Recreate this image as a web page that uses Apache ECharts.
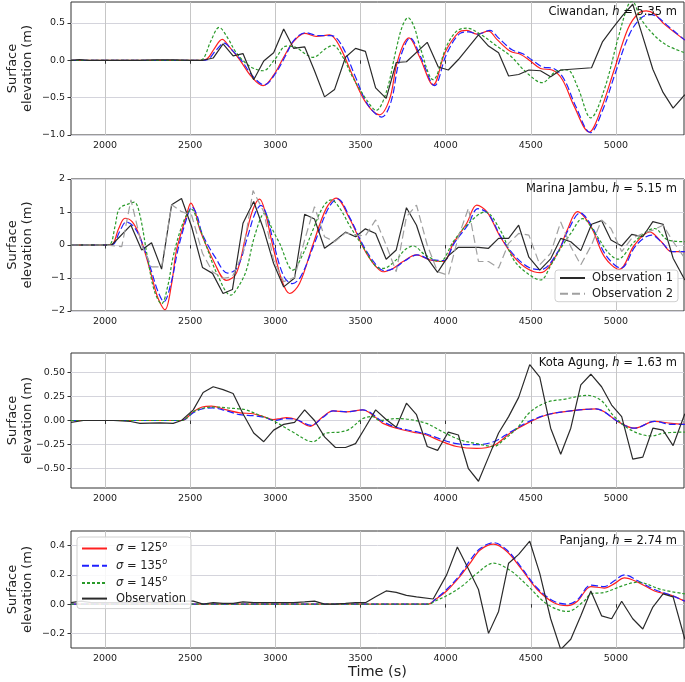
<!DOCTYPE html>
<html>
<head>
<meta charset="utf-8">
<script src="https://cdn.jsdelivr.net/npm/echarts@6/dist/echarts.min.js"></script>
<style>html,body{margin:0;padding:0;background:#fff}#c{width:685px;height:682px}</style>
</head>
<body>
<div id="c"></div>
<script>
// ---------- DATA ----------
const xTicks = [2000, 2500, 3000, 3500, 4000, 4500, 5000];
const yTicks1 = [-1.0, -0.5, 0.0, 0.5];
const yTicks2 = [-2, -1, 0, 1, 2];
const yTicks3 = [-0.5, -0.25, 0, 0.25, 0.5];
const yTicks4 = [-0.2, 0.0, 0.2, 0.4];
const stationLabels = ['Ciwandan', 'Marina Jambu', 'Kota Agung', 'Panjang'];
const stationDepths = ['5.35', '5.15', '1.63', '2.74'];
const modelNames = ['125', '135', '145'];

// Panel 1: Ciwandan
const p1Red = [[1800,0],[2000,0],[2300,0],[2560,0],[2600,0.02],[2640,0.15],[2688,0.28],[2730,0.18],[2790,0.01],[2860,-0.22],[2928,-0.34],[2990,-0.2],[3049,0.04],[3103,0.24],[3172,0.36],[3240,0.32],[3318,0.34],[3377,0.19],[3455,-0.21],[3533,-0.57],[3612,-0.73],[3671,-0.52],[3710,-0.08],[3750,0.2],[3785,0.30],[3848,0.04],[3927,-0.33],[3996,0.1],[4075,0.37],[4124,0.40],[4183,0.35],[4252,0.39],[4301,0.28],[4380,0.12],[4439,0.08],[4498,-0.01],[4557,-0.11],[4626,-0.13],[4686,-0.26],[4754,-0.61],[4843,-0.96],[4912,-0.66],[4991,-0.12],[5070,0.42],[5129,0.62],[5178,0.66],[5227,0.62],[5286,0.48],[5405,0.27]];
const p1Blue = [[1800,0],[2300,0],[2570,0],[2610,0.02],[2650,0.13],[2700,0.23],[2740,0.15],[2800,0.0],[2870,-0.22],[2935,-0.33],[3000,-0.18],[3060,0.06],[3110,0.27],[3180,0.37],[3250,0.33],[3330,0.33],[3390,0.2],[3470,-0.22],[3545,-0.6],[3625,-0.76],[3680,-0.55],[3720,-0.08],[3760,0.2],[3790,0.30],[3855,0.04],[3935,-0.34],[4005,0.08],[4085,0.36],[4135,0.38],[4190,0.35],[4260,0.4],[4310,0.3],[4390,0.14],[4450,0.09],[4510,0.0],[4570,-0.09],[4635,-0.11],[4695,-0.25],[4765,-0.62],[4850,-0.97],[4920,-0.68],[5000,-0.15],[5080,0.35],[5150,0.57],[5207,0.61],[5250,0.57],[5300,0.47],[5405,0.27]];
const p1Green = [[1800,0],[2300,0],[2540,0],[2576,0.02],[2620,0.25],[2670,0.44],[2720,0.3],[2771,0.10],[2850,-0.08],[2928,-0.14],[3000,0.02],[3064,0.19],[3122,0.17],[3180,0.08],[3220,0.04],[3299,0.16],[3338,0.20],[3397,0.04],[3455,-0.23],[3533,-0.52],[3592,-0.67],[3651,-0.43],[3710,0.15],[3745,0.45],[3779,0.57],[3815,0.45],[3848,0.19],[3927,-0.26],[4006,0.19],[4065,0.39],[4124,0.43],[4203,0.35],[4301,0.19],[4380,0.06],[4478,-0.17],[4567,-0.3],[4656,-0.14],[4715,-0.13],[4774,-0.35],[4853,-0.77],[4932,-0.39],[5011,0.28],[5070,0.73],[5095,0.79],[5148,0.55],[5227,0.33],[5300,0.2],[5405,0.1]];
const p1Obs = [[1800,0],[1850,0.01],[1900,0],[2000,0],[2100,0],[2200,0],[2300,0.005],[2400,0.005],[2500,0],[2576,0],[2635,0.03],[2693,0.22],[2752,0.06],[2810,0.09],[2873,-0.26],[2932,-0.01],[2990,0.1],[3049,0.42],[3107,0.16],[3172,0.18],[3230,-0.14],[3289,-0.49],[3348,-0.39],[3412,0.04],[3471,0.16],[3529,0.12],[3589,-0.37],[3651,-0.51],[3710,-0.03],[3770,-0.02],[3892,0.24],[3957,-0.09],[4016,-0.13],[4075,0.01],[4193,0.34],[4252,0.19],[4311,0.10],[4370,-0.21],[4429,-0.19],[4489,-0.13],[4557,-0.14],[4617,-0.22],[4676,-0.13],[4857,-0.10],[4922,0.25],[4981,0.43],[5040,0.6],[5099,0.75],[5148,0.39],[5217,-0.12],[5277,-0.43],[5336,-0.64],[5405,-0.46]];

// Panel 2: Marina Jambu
const p2Red = [[1800,0],[2000,0],[2040,0.01],[2080,0.5],[2117,0.81],[2160,0.7],[2205,0.25],[2264,-0.76],[2310,-1.6],[2352,-1.96],[2390,-1.2],[2420,-0.15],[2479,0.91],[2504,1.27],[2530,1.0],[2557,0.46],[2635,-0.46],[2713,-1.07],[2771,-0.86],[2830,0.36],[2870,1.1],[2908,1.39],[2940,1.0],[2986,-0.05],[3040,-1.1],[3084,-1.47],[3142,-1.17],[3220,0.0],[3299,1.11],[3357,1.42],[3435,0.81],[3514,-0.05],[3553,-0.4],[3592,-0.66],[3632,-0.81],[3691,-0.71],[3750,-0.5],[3829,-0.3],[3907,-0.45],[3986,-0.5],[4045,0.05],[4124,0.66],[4183,1.21],[4242,1.01],[4321,0.25],[4400,-0.35],[4478,-0.71],[4557,-0.84],[4656,-0.25],[4715,0.46],[4774,1.01],[4853,0.56],[4932,-0.35],[5020,-0.74],[5109,0.0],[5198,0.4],[5267,0.1],[5326,-0.2],[5405,-0.2]];
const p2Blue = [[1800,0],[2000,0],[2045,0.01],[2085,0.4],[2125,0.7],[2170,0.55],[2215,0.1],[2270,-0.75],[2310,-1.4],[2345,-1.72],[2390,-1.1],[2430,-0.1],[2485,0.9],[2510,1.15],[2540,0.9],[2570,0.35],[2650,-0.4],[2720,-0.85],[2775,-0.7],[2840,0.3],[2880,0.95],[2915,1.2],[2950,0.9],[2995,-0.05],[3050,-0.95],[3100,-1.17],[3150,-0.95],[3230,0.05],[3310,1.1],[3365,1.4],[3440,0.8],[3520,-0.05],[3600,-0.65],[3640,-0.78],[3700,-0.7],[3760,-0.48],[3835,-0.3],[3915,-0.45],[3990,-0.47],[4050,0.05],[4130,0.6],[4190,1.1],[4250,0.95],[4330,0.2],[4410,-0.35],[4490,-0.68],[4560,-0.75],[4660,-0.2],[4720,0.45],[4790,0.97],[4860,0.55],[4940,-0.3],[5030,-0.7],[5120,0.0],[5210,0.3],[5275,0.05],[5330,-0.2],[5405,-0.2]];
const p2Green = [[1800,0],[2000,0],[2030,0.02],[2060,0.6],[2084,1.1],[2140,1.25],[2172,1.3],[2205,0.9],[2250,-0.4],[2290,-1.4],[2332,-1.78],[2370,-1.2],[2400,-0.35],[2460,0.7],[2508,1.08],[2550,0.6],[2596,-0.05],[2660,-0.9],[2738,-1.52],[2790,-1.2],[2830,-0.76],[2880,0.3],[2937,0.96],[2980,0.5],[3025,0.05],[3103,-0.76],[3160,-0.3],[3220,0.45],[3280,1.15],[3328,1.37],[3380,1.1],[3435,0.6],[3520,-0.1],[3592,-0.66],[3632,-0.71],[3710,-0.45],[3760,-0.15],[3809,-0.03],[3880,-0.3],[3966,-0.5],[4045,0.1],[4124,0.6],[4232,1.0],[4321,0.45],[4400,-0.45],[4478,-0.85],[4557,-1.06],[4620,-0.6],[4676,-0.1],[4735,0.35],[4804,0.8],[4892,0.25],[4950,-0.2],[5011,-0.43],[5109,0.1],[5227,0.5],[5306,0.15],[5405,0.1]];
const p2Obs1 = [[1800,0],[1900,0],[2000,0],[2039,0],[2152,0.6],[2215,-0.15],[2273,0.07],[2332,-0.73],[2391,1.22],[2449,1.41],[2508,0.56],[2572,-0.68],[2631,-0.86],[2693,-1.47],[2748,-1.35],[2810,0.66],[2873,1.32],[2932,0.46],[2990,-0.56],[3049,-1.27],[3113,-1.0],[3172,0.93],[3230,0.79],[3289,-0.1],[3348,0.12],[3412,0.39],[3471,0.25],[3529,0.49],[3589,0.35],[3651,-0.43],[3710,-0.15],[3770,1.13],[3829,0.6],[3892,-0.4],[3953,-0.83],[4016,-0.33],[4075,-0.07],[4193,-0.07],[4252,-0.1],[4311,0.2],[4370,0.2],[4429,0.6],[4489,-0.37],[4553,-0.76],[4617,-0.42],[4676,0.2],[4735,0.1],[4794,-0.17],[4857,0.63],[4916,0.74],[4971,0.15],[5034,-0.03],[5093,0.32],[5158,0.25],[5217,0.71],[5277,0.63],[5336,-0.4],[5405,-1.06]];
const p2Obs2 = [[1800,0],[1900,0],[2000,0],[2098,-0.05],[2152,1.37],[2215,0],[2273,-0.66],[2332,-0.66],[2391,1.22],[2449,1.01],[2508,0.91],[2572,-0.25],[2631,-0.81],[2693,-1.01],[2748,-0.96],[2810,-0.25],[2869,1.65],[2932,1.01],[2990,-0.46],[3049,-1.11],[3113,-0.98],[3172,0.15],[3230,1.16],[3289,0.25],[3348,0.1],[3412,0.37],[3471,0.3],[3529,0.28],[3589,0.76],[3651,0],[3710,-0.81],[3770,0.86],[3829,1.21],[3892,0],[3953,-0.81],[4016,-0.92],[4075,0.25],[4134,1.11],[4193,-0.5],[4252,-0.5],[4311,-0.7],[4370,0.05],[4429,0.35],[4489,0.3],[4553,-0.6],[4617,-0.25],[4676,0.7],[4735,-0.05],[4794,-0.6],[4857,0],[4916,0.76],[4971,0.5],[5034,-0.2],[5093,0.2],[5158,0.35],[5217,0.45],[5277,0.6],[5336,0.1],[5405,-0.4]];

// Panel 3: Kota Agung
const p3Red = [[1800,0],[2300,0],[2450,0],[2518,0.09],[2570,0.14],[2625,0.15],[2713,0.11],[2791,0.08],[2869,0.07],[2930,0.04],[2986,0.01],[3030,0.02],[3064,0.03],[3123,0.01],[3205,-0.06],[3279,0.04],[3338,0.1],[3416,0.09],[3514,0.11],[3553,0.08],[3611,0.0],[3632,-0.03],[3710,-0.08],[3809,-0.12],[3888,-0.15],[3966,-0.21],[4065,-0.27],[4183,-0.29],[4282,-0.26],[4380,-0.13],[4478,-0.03],[4596,0.06],[4735,0.1],[4883,0.12],[4932,0.09],[5011,-0.01],[5109,-0.08],[5227,-0.01],[5326,-0.03],[5405,-0.04]];
const p3Blue = [[1800,0],[2300,0],[2450,0],[2518,0.08],[2570,0.12],[2630,0.13],[2713,0.1],[2791,0.06],[2869,0.05],[2940,0.03],[2990,0.0],[3064,0.02],[3123,0.01],[3210,-0.05],[3285,0.04],[3340,0.1],[3420,0.09],[3514,0.11],[3560,0.08],[3620,0.0],[3710,-0.07],[3809,-0.11],[3888,-0.14],[3966,-0.19],[4065,-0.24],[4183,-0.25],[4282,-0.22],[4380,-0.12],[4478,-0.02],[4596,0.06],[4735,0.1],[4883,0.12],[4932,0.09],[5011,-0.01],[5109,-0.08],[5227,-0.01],[5326,-0.04],[5405,-0.04]];
const p3Green = [[1800,0],[2300,0],[2450,0],[2518,0.09],[2580,0.13],[2654,0.14],[2720,0.13],[2791,0.12],[2830,0.11],[2900,0.06],[2986,0.0],[3103,-0.12],[3220,-0.22],[3299,-0.13],[3377,-0.12],[3435,-0.09],[3514,0.02],[3572,0.04],[3611,0.0],[3710,0.02],[3789,0.01],[3888,-0.03],[3986,-0.12],[4085,-0.2],[4183,-0.24],[4282,-0.27],[4341,-0.2],[4419,-0.08],[4498,0.09],[4596,0.19],[4695,0.22],[4833,0.26],[4912,0.21],[4991,0.04],[5089,-0.1],[5207,-0.16],[5286,-0.13],[5405,-0.12]];
const p3Obs = [[1800,-0.02],[1873,0],[1950,0],[2050,0],[2150,-0.01],[2205,-0.03],[2322,-0.025],[2400,-0.03],[2449,0],[2518,0.11],[2576,0.29],[2635,0.35],[2693,0.32],[2752,0.28],[2810,0.07],[2873,-0.13],[2932,-0.22],[2990,-0.1],[3049,-0.04],[3113,-0.02],[3172,0.11],[3230,0],[3289,-0.17],[3353,-0.28],[3412,-0.28],[3471,-0.24],[3529,-0.07],[3589,0.11],[3651,0.01],[3710,-0.07],[3770,0.18],[3829,0.06],[3892,-0.27],[3953,-0.31],[4016,-0.12],[4075,-0.15],[4134,-0.5],[4193,-0.63],[4252,-0.38],[4311,-0.13],[4370,0.04],[4429,0.24],[4494,0.58],[4553,0.45],[4617,-0.08],[4676,-0.35],[4735,-0.08],[4794,0.37],[4853,0.48],[4916,0.35],[4975,0.16],[5034,0.04],[5099,-0.4],[5158,-0.38],[5217,-0.08],[5277,-0.1],[5336,-0.26],[5405,0.07]];

// Panel 4: Panjang
const p4Red = [[1800,0],[3000,0],[3900,0],[3937,0.03],[4006,0.09],[4085,0.19],[4144,0.28],[4203,0.37],[4282,0.41],[4360,0.36],[4439,0.25],[4538,0.1],[4636,0.01],[4715,-0.01],[4774,0.02],[4853,0.12],[4932,0.11],[4991,0.14],[5050,0.18],[5129,0.15],[5227,0.09],[5326,0.06],[5405,0.02]];
const p4Blue = [[1800,0],[3900,0],[3937,0.03],[4006,0.1],[4085,0.2],[4144,0.3],[4203,0.38],[4282,0.42],[4360,0.37],[4439,0.26],[4538,0.11],[4636,0.02],[4715,0.0],[4774,0.03],[4853,0.13],[4932,0.12],[4991,0.16],[5050,0.2],[5129,0.16],[5227,0.1],[5326,0.06],[5405,0.02]];
const p4Green = [[1800,0],[3900,0],[3937,0.02],[4026,0.07],[4104,0.13],[4183,0.21],[4282,0.28],[4380,0.23],[4478,0.13],[4596,0.0],[4715,-0.05],[4813,0.02],[4853,0.07],[4932,0.08],[5050,0.13],[5129,0.15],[5267,0.1],[5405,0.07]];
const p4Obs = [[1800,0.01],[1860,0.02],[1920,0.01],[2000,0.01],[2100,0.01],[2200,0.015],[2300,0.01],[2400,0.015],[2460,0.02],[2518,0.02],[2576,0],[2635,0.01],[2693,0.005],[2752,0.005],[2810,0.015],[2873,0.01],[2932,0.01],[2990,0.01],[3049,0.01],[3107,0.01],[3172,0.015],[3230,0.02],[3289,0],[3348,0.0],[3412,0.005],[3471,0.01],[3529,0.01],[3589,0.05],[3651,0.09],[3710,0.08],[3770,0.06],[3829,0.05],[3927,0.035],[4006,0.2],[4069,0.39],[4134,0.24],[4193,0.1],[4252,-0.2],[4311,-0.05],[4370,0.28],[4429,0.34],[4494,0.43],[4553,0.21],[4617,-0.1],[4676,-0.31],[4735,-0.24],[4794,-0.08],[4853,0.09],[4916,-0.08],[4975,-0.1],[5034,0.02],[5099,-0.1],[5158,-0.17],[5217,-0.02],[5277,0.07],[5336,0.05],[5405,-0.24]];

// ---------- CHART ----------
const FONT = 'DejaVu Sans';
const chart = echarts.init(document.getElementById('c'), null, {renderer: 'canvas'});
const panels = [
  {top: 2, height: 133, min: -1.0, max: 0.78, ticks: yTicks1, dec: 1},
  {top: 179, height: 132, min: -2, max: 2, ticks: yTicks2, dec: 0},
  {top: 353, height: 135, min: -0.7, max: 0.7, ticks: yTicks3, dec: 2},
  {top: 531, height: 117, min: -0.3, max: 0.5, ticks: yTicks4, dec: 1}
];
const fmt = (v, d) => { const s = Math.abs(v).toFixed(d); return (v < -1e-9 ? '\u2212' : '') + s; };

const grids = panels.map(p => ({left: 71, right: 1, top: p.top, height: p.height, outerBoundsMode: 'none', containLabel: false,
  show: true, borderColor: '#333', borderWidth: 1, backgroundColor: 'transparent'}));
const xAxes = panels.map((p, i) => ({
  type: 'value', gridIndex: i, min: 1800, max: 5400,
  axisLine: {show: false},
  axisTick: {show: true, length: 3.5, lineStyle: {color: '#333'}, customValues: xTicks},
  axisLabel: {show: true, customValues: xTicks, color: '#222', fontFamily: FONT, fontSize: 9.5, margin: 6, formatter: v => String(v)},
  splitLine: {show: true, lineStyle: {color: '#c6c6c6', width: 1}},
  name: i === 3 ? 'Time (s)' : '', nameLocation: 'middle', nameGap: 17,
  nameTextStyle: {fontFamily: FONT, fontSize: 14.5, color: '#222'}
}));
const yAxes = panels.map((p, i) => ({
  type: 'value', gridIndex: i, min: p.min, max: p.max,
  axisLine: {show: false},
  axisTick: {show: true, length: 3.5, lineStyle: {color: '#333'}, customValues: p.ticks},
  axisLabel: {show: true, customValues: p.ticks, color: '#222', fontFamily: FONT, fontSize: 9.5, margin: 6, formatter: v => fmt(v, p.dec)},
  splitLine: {show: true, lineStyle: {color: '#d4d4dc', width: 1}},
  name: 'Surface\nelevation (m)', nameLocation: 'middle', nameRotate: 90, nameGap: 36, nameMoveOverlap: false,
  nameTextStyle: {fontFamily: FONT, fontSize: 13, color: '#222', lineHeight: 15}
}));

const mk = (name, data, idx, color, dash, w) => ({
  type: 'line', name: name, data: data, xAxisIndex: idx, yAxisIndex: idx,
  showSymbol: false, symbol: 'none', smooth: false, clip: true, animation: false,
  lineStyle: {color: color, width: w || 1.2, type: dash || 'solid'},
  itemStyle: {color: color}
});
const mkS = (name, data, idx, color, dash) => Object.assign(mk(name, data, idx, color, dash), {smooth: 0.35});

const RED = '#ff2020', BLUE = '#2020ff', GREEN = '#2a9a2a', BLACK = '#2a2a2a', GRAY = '#a0a0a0';
const DB = [7, 3], DG = [3, 2], DO = [8, 4];
const sName = n => 's' + n;
const series = [];
const reds = [p1Red, p2Red, p3Red, p4Red], blues = [p1Blue, p2Blue, p3Blue, p4Blue], greens = [p1Green, p2Green, p3Green, p4Green];
for (let i = 0; i < 4; i++) {
  series.push(mkS(sName(modelNames[0]), reds[i], i, RED));
  series.push(mkS(sName(modelNames[1]), blues[i], i, BLUE, DB));
  series.push(mkS(sName(modelNames[2]), greens[i], i, GREEN, DG));
}
series.push(mk('Observation', p1Obs, 0, BLACK));
series.push(mk('Observation 1', p2Obs1, 1, BLACK));
series.push(mk('Observation 2', p2Obs2, 1, GRAY, DO));
series.push(mk('Observation', p3Obs, 2, BLACK));
series.push(mk('Observation', p4Obs, 3, BLACK));

const titleTops = [6, 183, 357, 535];
const titles = stationLabels.map((s, i) => ({
  text: s + ', {i|h} = ' + stationDepths[i] + ' m',
  right: 8, top: titleTops[i], padding: 0,
  textStyle: {fontFamily: FONT, fontSize: 11.5, fontWeight: 'normal', color: '#111',
    rich: {i: {fontFamily: FONT, fontSize: 11.5, fontStyle: 'italic', color: '#111'}}}
}));

const legendBox = {backgroundColor: 'rgba(255,255,255,0.85)', borderColor: '#d0d0d0', borderWidth: 1, borderRadius: 3,
  itemStyle: {opacity: 0}};
const option = {
  animation: false,
  backgroundColor: '#fff',
  title: titles,
  grid: grids, xAxis: xAxes, yAxis: yAxes,
  legend: [
    Object.assign({
      data: ['Observation 1', 'Observation 2'], left: 555, top: 270, orient: 'vertical',
      itemWidth: 25, itemHeight: 12, itemGap: 3.7, padding: [2, 5, 2, 4],
      textStyle: {fontFamily: FONT, fontSize: 11.5, color: '#222', padding: [0, 0, 0, 2]}
    }, legendBox),
    Object.assign({
      data: modelNames.map(sName).concat(['Observation']), left: 77, top: 537, orient: 'vertical',
      itemWidth: 25, itemHeight: 14, itemGap: 3.7, padding: [4, 5, 4, 4],
      formatter: n => n === 'Observation' ? n : '{i|\u03c3} = ' + n.slice(1) + '{s|o}',
      textStyle: {fontFamily: FONT, fontSize: 11.5, color: '#222', padding: [0, 0, 0, 4],
        rich: {i: {fontFamily: FONT, fontSize: 11.5, fontStyle: 'italic', color: '#222'},
               s: {fontFamily: FONT, fontSize: 8, fontStyle: 'italic', color: '#222', padding: [0, 0, 7, 0]}}}
    }, legendBox)
  ],
  series: series
};
chart.setOption(option);
</script>
</body>
</html>
